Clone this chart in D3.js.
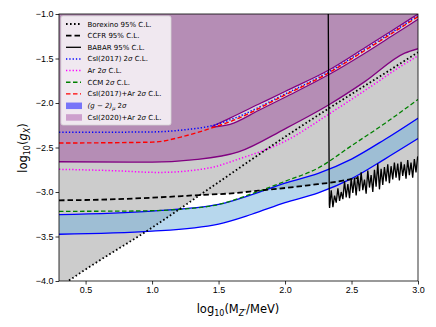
<!doctype html>
<html>
  <head>
    <script src="https://cdnjs.cloudflare.com/ajax/libs/d3/7.8.5/d3.min.js"></script>
    <style>
      body { margin: 0; background: #fff; }
      svg { font-family: "DejaVu Sans", sans-serif; }
      .tick text { font-size: 9px; fill: #000; }
      .legend text { font-size: 7px; fill: #000; }
    </style>
  </head>
  <body>
    <svg id="chart" width="436" height="327"></svg>
    <script>
      // ---- data (log10 M in MeV, log10 g) ----
      var xTicks = [0.5, 1.0, 1.5, 2.0, 2.5, 3.0];
      var yTicks = [-1.0, -1.5, -2.0, -2.5, -3.0, -3.5, -4.0];

      var borexinoX = [0.3, 0.5, 1.0, 1.5, 2.0, 2.33, 2.5, 2.9, 3.0];
      var borexinoY = [-4.07, -3.87, -3.40, -2.89, -2.38, -2.06, -1.90, -1.525, -1.43];

      var ccfrX = [0.3, 0.5, 1.0, 1.36, 1.6, 1.8, 2.0, 2.2, 2.34, 2.5, 2.55];
      var ccfrY = [-3.093, -3.09, -3.064, -3.034, -3.015, -2.985, -2.955, -2.92, -2.895, -2.855, -2.84];

      var babarX = [2.325, 2.333, 2.335, 2.3475, 2.36, 2.3725, 2.385, 2.3975, 2.41, 2.4225, 2.435, 2.4475,
        2.46, 2.4725, 2.485, 2.4975, 2.51, 2.5225, 2.535, 2.5475, 2.56, 2.5725, 2.585, 2.5975,
        2.61, 2.6225, 2.635, 2.6475, 2.66, 2.6725, 2.685, 2.6975, 2.71, 2.7225, 2.735, 2.7475,
        2.76, 2.7725, 2.785, 2.7975, 2.81, 2.8225, 2.835, 2.8475, 2.86, 2.8725, 2.885, 2.8975,
        2.91, 2.9225, 2.935, 2.9475, 2.96, 2.9725, 2.985, 2.9975];
      var babarY = [-1.0, -3.14, -3.18, -2.98, -3.17, -3.04, -3.12, -2.96, -3.10, -3.00, -3.08, -2.88,
        -3.06, -2.91, -3.07, -2.85, -3.01, -2.84, -3.04, -2.82, -2.99, -2.78, -2.98, -2.86,
        -3.02, -2.76, -2.95, -2.81, -3.00, -2.75, -2.94, -2.68, -2.97, -2.74, -2.92, -2.72,
        -2.88, -2.69, -2.90, -2.71, -2.86, -2.67, -2.84, -2.68, -2.87, -2.66, -2.82, -2.69,
        -2.85, -2.64, -2.81, -2.67, -2.84, -2.63, -2.78, -2.60];

      var csi2017X = [0.3, 1.0, 1.25, 1.45, 1.586, 2.0, 2.33, 2.6, 3.0];
      var csi2017Y = [-2.33, -2.325, -2.30, -2.255, -2.19, -1.90, -1.65, -1.40, -1.02];

      var arX = [0.3, 0.7, 1.05, 1.43, 1.65, 2.0, 2.33, 2.6, 2.9, 3.0];
      var arY = [-2.745, -2.76, -2.78, -2.73, -2.63, -2.43, -2.125, -1.86, -1.56, -1.47];

      var ccmX = [0.3, 0.75, 1.0, 1.25, 1.5, 1.75, 2.0, 2.25, 2.5, 2.75, 3.0];
      var ccmY = [-3.217, -3.215, -3.21, -3.19, -3.14, -3.02, -2.88, -2.73, -2.48, -2.23, -1.96];

      var csiArX = [0.3, 1.0, 1.25, 1.45, 1.586, 2.0, 2.33, 2.6, 3.0];
      var csiArY = [-2.45, -2.44, -2.37, -2.28, -2.21, -1.91, -1.66, -1.41, -1.03];

      var g2X = [0.3, 1.0, 1.5, 1.75, 2.0, 2.25, 2.5, 2.75, 3.0];
      var g2Upper = [-3.255, -3.215, -3.14, -3.03, -2.90, -2.79, -2.63, -2.41, -2.17];
      var g2Lower = [-3.475, -3.44, -3.36, -3.25, -3.12, -3.01, -2.85, -2.63, -2.40];

      var csi2020X = [0.3, 1.0, 1.3, 1.65, 2.0, 2.33, 2.6, 2.9, 3.0];
      var csi2020Y = [-2.66, -2.665, -2.64, -2.55, -2.29, -2.02, -1.76, -1.44, -1.39];
      // thin allowed sliver inside the CsI(2020)+Ar region
      var sliverX = [1.45, 1.586, 1.8, 2.0, 2.33, 2.6, 2.8, 3.0];
      var sliverTop = [-2.265, -2.17, -2.015, -1.87, -1.63, -1.38, -1.19, -1.0];
      var sliverBottom = [-2.27, -2.24, -2.085, -1.935, -1.68, -1.44, -1.25, -1.06];

      var legendLabels = ["Borexino 95% C.L.", "CCFR 95% C.L.", "BABAR 95% C.L.", "CsI(2017) 2σ C.L.",
        "Ar 2σ C.L.", "CCM 2σ C.L.", "CsI(2017)+Ar 2σ C.L.", "(g − 2)μ 2σ", "CsI(2020)+Ar 2σ C.L."];

      var svg = d3.select("#chart");
      var x = d3.scaleLinear().domain([0.3, 3.0]).range([59, 418]);
      var y = d3.scaleLinear().domain([-4, -1]).range([281, 14]);

      function pts(xs, ys) { return xs.map((d, i) => [d, ys[i]]); }
      var line = d3.line().x(d => x(d[0])).y(d => y(d[1]));
      var smooth = d3.line().x(d => x(d[0])).y(d => y(d[1])).curve(d3.curveMonotoneX);

      svg.append("defs").append("clipPath").attr("id", "plotclip")
        .append("rect").attr("x", 59).attr("y", 14).attr("width", 359).attr("height", 267);

      var plot = svg.append("g").attr("clip-path", "url(#plotclip)");

      // excluded region: everything above the lowest of Borexino, CCFR, BABAR
      function interp(xs, ys, v) {
        if (v < xs[0] || v > xs[xs.length - 1]) return Infinity;
        var i = d3.bisectRight(xs, v) - 1;
        if (i >= xs.length - 1) return ys[xs.length - 1];
        var t = (v - xs[i]) / (xs[i + 1] - xs[i]);
        return ys[i] + t * (ys[i + 1] - ys[i]);
      }
      var grid = d3.range(0.3, 3.0001, 0.005).concat(babarX).sort(d3.ascending);
      var env = grid.map(v => [v, Math.min(interp(borexinoX, borexinoY, v), interp(ccfrX, ccfrY, v), interp(babarX, babarY, v))]);
      var grayPoly = [[0.3, -1.0]].concat(env).concat([[3.0, -1.0]]);
      plot.append("path").attr("d", line(grayPoly) + "Z").attr("fill", "#cccccc");

      // CsI(2020)+Ar region
      var purpleArea = d3.area().x(d => x(d[0])).y0(d => y(d[1])).y1(y(-1.0)).curve(d3.curveMonotoneX);
      plot.append("path").attr("d", purpleArea(pts(csi2020X, csi2020Y)))
        .attr("fill", "purple").attr("fill-opacity", 0.31);
      var sliverArea = d3.area().x(d => x(d[0])).y0(d => y(d[2])).y1(d => y(d[1])).curve(d3.curveMonotoneX);
      plot.append("path").attr("d", sliverArea(sliverX.map((d, i) => [d, sliverTop[i], sliverBottom[i]])))
        .attr("fill", "#d8d2d8");

      // (g-2) band
      var band = d3.area().x(d => x(d[0])).y0(d => y(d[2])).y1(d => y(d[1])).curve(d3.curveMonotoneX);
      plot.append("path").attr("d", band(g2X.map((d, i) => [d, g2Upper[i], g2Lower[i]])))
        .attr("fill", "#6fb0dc").attr("fill-opacity", 0.5);

      function draw(xs, ys, color, width, dash, gen) {
        plot.append("path").attr("d", (gen || smooth)(pts(xs, ys)))
          .attr("fill", "none").attr("stroke", color).attr("stroke-width", width)
          .attr("stroke-dasharray", dash);
      }
      draw(csi2020X, csi2020Y, "purple", 1.3, null);
      draw(sliverX, sliverTop, "purple", 1.2, null);
      draw(sliverX, sliverBottom, "purple", 1.2, null);
      draw(g2X, g2Upper, "blue", 1.3, null);
      draw(g2X, g2Lower, "blue", 1.3, null);
      draw(ccmX, ccmY, "green", 1.3, "4.5,2.5");
      draw(arX, arY, "magenta", 1.5, "1.3,2");
      draw(csi2017X, csi2017Y, "blue", 1.5, "1.3,2");
      draw(csiArX, csiArY, "red", 1.4, "4.5,2.5");
      draw(ccfrX, ccfrY, "black", 1.8, "5.5,3");
      draw(babarX, babarY, "black", 1.3, null, line);
      draw(borexinoX, borexinoY, "black", 1.8, "1.6,2.4");

      // axes
      var xAxis = svg.append("g").attr("transform", "translate(0,281)")
        .call(d3.axisBottom(x).tickValues(xTicks).tickFormat(d3.format(".1f")).tickSizeOuter(0).tickSize(3.5));
      var yAxis = svg.append("g").attr("transform", "translate(59,0)")
        .call(d3.axisLeft(y).tickValues(yTicks).tickFormat(d => d3.format(".1f")(d).replace("-", "−")).tickSizeOuter(0).tickSize(3.5));
      [xAxis, yAxis].forEach(a => { a.select(".domain").remove(); a.selectAll("line").attr("stroke", "#000").attr("stroke-width", 0.8); });
      xAxis.selectAll("text").attr("dy", "0.71em").attr("y", 6);
      yAxis.selectAll("text").attr("x", -5.5);
      svg.append("rect").attr("x", 59).attr("y", 14).attr("width", 359).attr("height", 267)
        .attr("fill", "none").attr("stroke", "#000").attr("stroke-width", 0.8);

      // axis labels
      var xl = svg.append("text").attr("x", 238).attr("y", 313).attr("text-anchor", "middle").attr("font-size", 11.5);
      xl.append("tspan").text("log");
      xl.append("tspan").attr("font-size", 8).attr("dy", 2.5).text("10");
      xl.append("tspan").attr("dy", -2.5).text("(M");
      xl.append("tspan").attr("font-size", 8).attr("dy", 2.5).attr("font-style", "italic").text("Z′");
      xl.append("tspan").attr("dy", -2.5).text("/MeV)");

      var yl = svg.append("text").attr("transform", "translate(27,148) rotate(-90)").attr("text-anchor", "middle").attr("font-size", 11.5);
      yl.append("tspan").text("log");
      yl.append("tspan").attr("font-size", 8).attr("dy", 2.5).text("10");
      yl.append("tspan").attr("dy", -2.5).text("(");
      yl.append("tspan").attr("font-style", "italic").text("g");
      yl.append("tspan").attr("font-size", 8).attr("dy", 2.5).attr("font-style", "italic").text("X");
      yl.append("tspan").attr("dy", -2.5).text(")");

      // legend
      var lg = svg.append("g").attr("class", "legend");
      lg.append("rect").attr("x", 61).attr("y", 16).attr("width", 110).attr("height", 109).attr("rx", 2)
        .attr("fill", "#fff").attr("fill-opacity", 0.8).attr("stroke", "#d6d6d6").attr("stroke-width", 0.8);
      var handles = [
        {color: "black", width: 1.8, dash: "1.6,2.4"},
        {color: "black", width: 1.8, dash: "5.5,3"},
        {color: "black", width: 1.3, dash: null},
        {color: "blue", width: 1.5, dash: "1.3,2"},
        {color: "magenta", width: 1.5, dash: "1.3,2"},
        {color: "green", width: 1.3, dash: "4.5,2.5"},
        {color: "red", width: 1.4, dash: "4.5,2.5"},
        {patch: "blue", opacity: 0.5},
        {patch: "purple", opacity: 0.31}
      ];
      legendLabels.forEach((lab, i) => {
        var cy = 24 + i * 11.65, h = handles[i];
        if (h.patch) {
          lg.append("rect").attr("x", 66).attr("y", cy - 3).attr("width", 16).attr("height", 6.5)
            .attr("fill", h.patch).attr("fill-opacity", h.opacity);
        } else {
          lg.append("line").attr("x1", 66).attr("x2", 81).attr("y1", cy).attr("y2", cy)
            .attr("stroke", h.color).attr("stroke-width", h.width).attr("stroke-dasharray", h.dash);
        }
        var t = lg.append("text").attr("x", 87.5).attr("y", cy + 2.5);
        if (i === 7) {
          t.append("tspan").attr("font-style", "italic").text("(g − 2)");
          t.append("tspan").attr("font-style", "italic").attr("font-size", 5).attr("dy", 1.8).text("μ");
          t.append("tspan").attr("dy", -1.8).text(" 2");
          t.append("tspan").attr("font-style", "italic").text("σ");
        } else {
          var parts = lab.split("σ");
          t.append("tspan").text(parts[0]);
          if (parts.length > 1) {
            t.append("tspan").attr("font-style", "italic").text("σ");
            t.append("tspan").text(parts[1]);
          }
        }
      });
    </script>
  </body>
</html>
